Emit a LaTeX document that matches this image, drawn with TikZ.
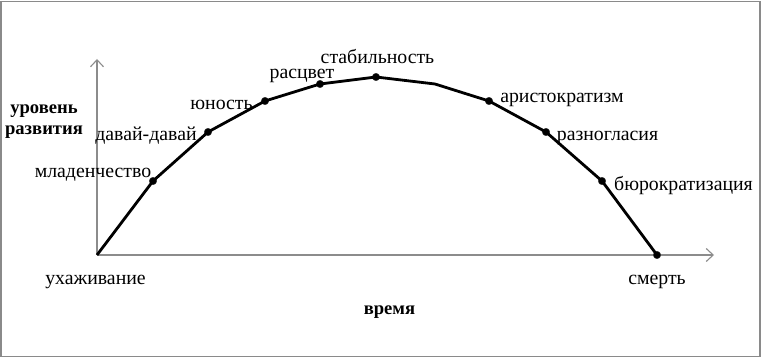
\documentclass[tikz,border=0pt]{standalone}
\usepackage{fontspec}
\setmainfont{Liberation Serif}
\usetikzlibrary{arrows.meta}
\definecolor{axisgray}{HTML}{8C8C8C}
\definecolor{framegray}{HTML}{8A8A8A}

\begin{document}
\begin{tikzpicture}[x=1pt,y=-1pt,
  every node/.style={font=\fontsize{19.8}{23}\selectfont},
  lbl/.style={inner sep=0pt, text height=0.7em, text depth=0.22em},
  ttl/.style={lbl, font=\fontsize{18.6}{21}\selectfont\bfseries, align=center},
  stage/.style={circle, fill=black, draw=black!80, inner sep=0pt, minimum size=7.5pt},
  axis/.style={draw=axisgray, line width=1.1pt, -{Straight Barb[length=7pt,width=13pt,line width=1.1pt]}},
  life/.style={draw=black, line width=2.8pt, line join=round},
]
  % frame
  \draw[framegray, line width=1.6pt] (1,1.5) rectangle (760,356.5);
  \useasboundingbox (0,0) rectangle (762,358);

  % axes
  \coordinate (O) at (97,255);
  \coordinate (ytip) at (97,59);
  \coordinate (xtip) at (714,255);
  \draw[axis] (O) -- (ytip);
  \draw[axis] (O) -- (xtip);

  % stages of the life cycle
  \node[stage] (s1) at (153,181) {};
  \node[stage] (s2) at (208,132) {};
  \node[stage] (s3) at (265,101) {};
  \node[stage] (s4) at (320,84) {};
  \node[stage] (s5) at (376,77) {};
  \coordinate (bend) at (435,84);
  \node[stage] (s6) at (489,101) {};
  \node[stage] (s7) at (546,132) {};
  \node[stage] (s8) at (602,181) {};
  \node[stage] (s9) at (657,255) {};
  \draw[life] (O) -- (s1.center) -- (s2.center) -- (s3.center) -- (s4.center)
    -- (s5.center) -- (bend) -- (s6.center) -- (s7.center) -- (s8.center) -- (s9.center);

  % labels
  \node[lbl] (l0) at (95.5,282) {ухаживание};
  \node[lbl] (l1) at (93,175) {младенчество};
  \node[lbl] (l2) at (146,138) {давай-давай};
  \node[lbl] (l3) at (221.5,107) {юность};
  \node[lbl] (l4) at (302,76) {расцвет};
  \node[lbl] (l5) at (377.5,61) {стабильность};
  \node[lbl] (l6) at (562,100) {аристократизм};
  \node[lbl] (l7) at (607.5,138) {разногласия};
  \node[lbl] (l8) at (683.5,188) {бюрократизация};
  \node[lbl] (l9) at (657,282) {смерть};

  % axis titles
  \node[ttl] (ylab) at (44,132) {уровень\\развития};
  \node[ttl] (xlab) at (389.5,312) {время};
\end{tikzpicture}
\end{document}
